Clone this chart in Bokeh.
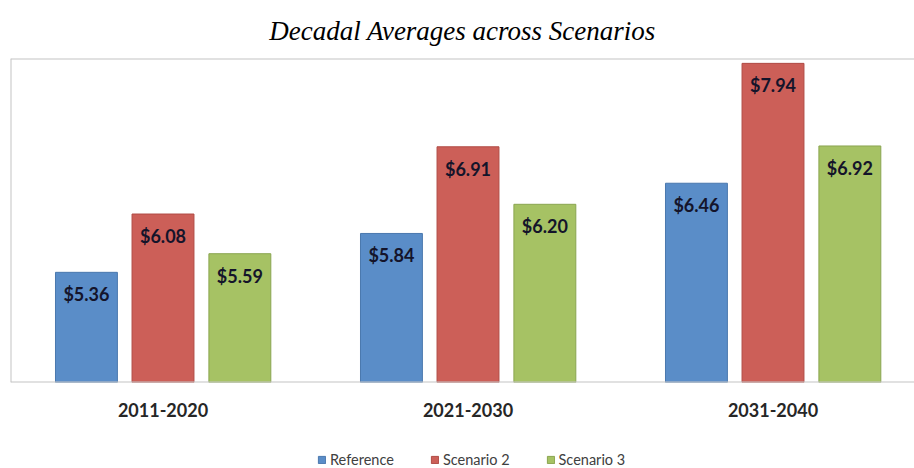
from bokeh.plotting import figure
from bokeh.layouts import column
from bokeh.models import ColumnDataSource, Range1d, FixedTicker, Legend, LegendItem, Span, Title
from bokeh.core.properties import value
from bokeh.embed import file_html
from bokeh.resources import INLINE

decades = ["2011-2020", "2021-2030", "2031-2040"]
series_names = ["Reference", "Scenario 2", "Scenario 3"]
reference = [5.36, 5.84, 6.46]
scenario2 = [6.08, 6.91, 7.94]
scenario3 = [5.59, 6.20, 6.92]

fills = ["#5A8DC8", "#CC5F58", "#A6C264"]
lines = ["#4A78AE", "#B04B45", "#8AA550"]
offsets = [-0.251, 0.0, 0.252]
y_min, y_max = 4, 8

p = figure(width=914, height=430, output_backend="svg", toolbar_location=None,
           x_range=Range1d(0, 904 / 305), y_range=Range1d(y_min, y_max),
           min_border_left=10, min_border_right=0, min_border_top=0, min_border_bottom=48)
p.title = Title(text="Decadal Averages across Scenarios", align="center",
                text_font="Liberation Serif", text_font_style="italic",
                text_font_size="27px", text_color="#000000", standoff=26, offset=6)
p.outline_line_color = None
p.xgrid.visible = False
p.ygrid.visible = False
p.yaxis.visible = False

xa = p.xaxis[0]
xa.ticker = FixedTicker(ticks=[i + 0.5 for i in range(len(decades))])
xa.major_label_overrides = {i + 0.5: d for i, d in enumerate(decades)}
xa.axis_line_color = None
xa.major_tick_line_color = None
xa.minor_tick_line_color = None
xa.major_label_standoff = 14
xa.major_label_text_font = "Lato"
xa.major_label_text_font_style = "bold"
xa.major_label_text_font_size = "18px"
xa.major_label_text_color = "#262626"

for loc in [y_min, y_max]:
    p.add_layout(Span(location=loc, dimension="width", line_color="#C4C4C4", line_width=2))
p.add_layout(Span(location=0, dimension="height", line_color="#C4C4C4", line_width=2))

for vals, fc, lc, off in zip([reference, scenario2, scenario3], fills, lines, offsets):
    src = ColumnDataSource(dict(
        x=[i + 0.5 + off for i in range(len(decades))],
        top=vals,
        lab=[f"${v:.2f}" for v in vals],
    ))
    p.vbar(x="x", top="top", bottom=y_min, width=0.203, source=src,
           fill_color=fc, line_color=lc, line_width=1)
    p.text(x="x", y="top", text="lab", source=src, text_align="center",
           text_baseline="middle", y_offset=22, text_font=value("Lato"),
           text_font_style="bold", text_font_size="18px", text_color="#14142a")

# legend strip below the chart (swatch renderers sit outside the visible range)
lg = figure(width=914, height=38, output_backend="svg", toolbar_location=None,
            x_range=Range1d(0, 1), y_range=Range1d(0, 1),
            x_axis_location=None, y_axis_location=None,
            min_border_left=0, min_border_right=0, min_border_top=0, min_border_bottom=0)
lg.outline_line_color = None
lg.xgrid.visible = False
lg.ygrid.visible = False
items = []
for name, fc, lc in zip(series_names, fills, lines):
    r = lg.vbar(x=[-5], top=[-5], bottom=-6, width=0.1, fill_color=fc, line_color=lc, line_width=1)
    items.append(LegendItem(label=name, renderers=[r]))
legend = Legend(items=items, orientation="horizontal", location=(307, 0),
                glyph_width=9, glyph_height=9, label_standoff=4, spacing=36,
                label_text_font="Lato", label_text_font_size="14.5px",
                label_text_color="#404040", border_line_color=None,
                background_fill_alpha=0, padding=0, margin=0)
lg.add_layout(legend)

open("out.html", "w").write(file_html(column(p, lg, spacing=0), INLINE))
